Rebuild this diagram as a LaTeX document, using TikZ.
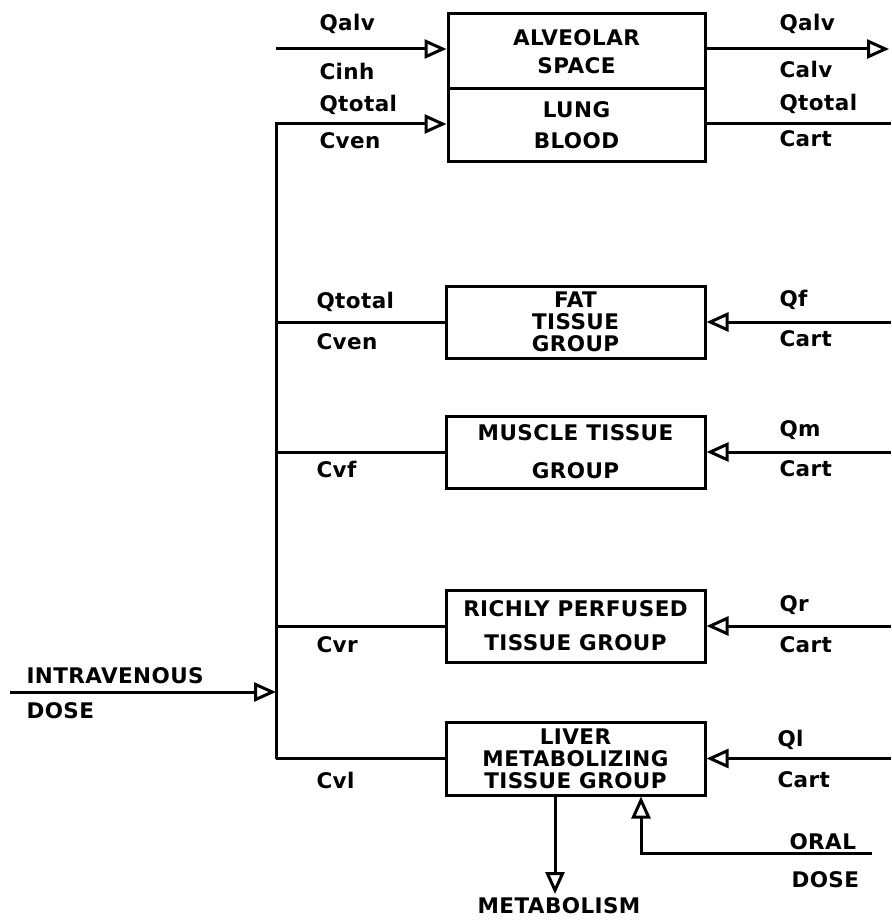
\documentclass[tikz,border=0pt]{standalone}
\usepackage{fontspec}
\setmainfont{DejaVu Sans}[LetterSpace=2]
\usetikzlibrary{arrows.meta}
\begin{document}
\begin{tikzpicture}[x=1pt,y=-1pt, line width=3pt,
  box/.style={draw, rectangle, inner sep=0pt, align=center, minimum width=259pt,
    font=\bfseries\fontsize{21.5}{22}\selectfont},
  lbl/.style={anchor=west, inner sep=0pt, font=\bfseries\fontsize{21.5}{22}\selectfont},
  tip/.style={-{Triangle[open,length=22pt,width=19pt,line width=3pt]}},
]
\useasboundingbox (0,0) rectangle (891,920);
% boxes
\node[box, minimum width=257pt, minimum height=75pt, font=\bfseries\fontsize{21.5}{28}\selectfont] (alv) at (576.5,51.5) {ALVEOLAR\\SPACE};
\node[box, minimum width=257pt, minimum height=73pt, font=\bfseries\fontsize{21.5}{31}\selectfont] (lung) at (576.5,125.5) {LUNG\\BLOOD};
\node[box, minimum height=72pt] (fat) at (575.5,322) {FAT\\TISSUE\\GROUP};
\node[box, minimum height=72pt, font=\bfseries\fontsize{21.5}{38}\selectfont] (mus) at (575.5,452) {MUSCLE TISSUE\\GROUP};
\node[box, minimum height=72pt, font=\bfseries\fontsize{21.5}{34}\selectfont] (rich) at (575.5,626) {RICHLY PERFUSED\\TISSUE GROUP};
\node[box, minimum height=73pt] (liv) at (575.5,758.5) {LIVER\\METABOLIZING\\TISSUE GROUP};
% coordinates
\coordinate (qin) at (276,49);
\coordinate (qout) at (889,49);
\coordinate (vtop) at (276,124);
\coordinate (vbot) at (276,758.5);
\coordinate (lout) at (891,124);
\coordinate (fin) at (891,322);
\coordinate (min) at (891,452);
\coordinate (rin) at (891,626);
\coordinate (lin) at (891,758.5);
\coordinate (iv) at (10,692);
\coordinate (met) at (555,894);
\coordinate (oral) at (872,853);
\coordinate (oralc) at (641,853);
% connectors
\draw[tip] (qin) -- (qin -| alv.west);
\draw[tip] (qout -| alv.east) -- (qout);
\draw[tip] (vbot) -- (vtop) -- (vtop -| lung.west);
\draw (lout -| lung.east) -- (lout);
\draw (vtop |- fat.west) -- (fat.west);
\draw (vtop |- mus.west) -- (mus.west);
\draw (vtop |- rich.west) -- (rich.west);
\draw (vbot) -- (liv.west);
\draw[tip] (fin) -- (fat.east);
\draw[tip] (min) -- (mus.east);
\draw[tip] (rin) -- (rich.east);
\draw[tip] (lin) -- (liv.east);
\draw[tip] (iv) -- (iv -| vtop);
\draw[tip] (met |- liv.south) -- (met);
\draw[tip] (oral) -- (oralc) -- (oralc |- liv.south);
% labels
\node[lbl] (l1) at (318,24) {Qalv};
\node[lbl] (l2) at (318,71) {Cinh};
\node[lbl] (l3) at (318,105) {Qtotal};
\node[lbl] (l4) at (318,141) {Cven};
\node[lbl] (r1) at (778,24) {Qalv};
\node[lbl] (r2) at (778,69) {Calv};
\node[lbl] (r3) at (778,104) {Qtotal};
\node[lbl] (r4) at (778,139) {Cart};
\node[lbl] (l5) at (315,302) {Qtotal};
\node[lbl] (l6) at (315,342) {Cven};
\node[lbl] (r5) at (778,300) {Qf};
\node[lbl] (r6) at (778,339) {Cart};
\node[lbl] (l7) at (315,469) {Cvf};
\node[lbl] (r7) at (778,430) {Qm};
\node[lbl] (r8) at (778,469) {Cart};
\node[lbl] (l8) at (315,645) {Cvr};
\node[lbl] (r9) at (778,605) {Qr};
\node[lbl] (r10) at (778,645) {Cart};
\node[lbl] (l9) at (315,780) {Cvl};
\node[lbl] (r11) at (776,740) {Ql};
\node[lbl] (r12) at (776,780) {Cart};
\node[lbl] (iv1) at (25,676) {INTRAVENOUS};
\node[lbl] (iv2) at (25,711) {DOSE};
\node[lbl] (or1) at (788,842) {ORAL};
\node[lbl] (or2) at (790,880) {DOSE};
\node[inner sep=0pt, font=\bfseries\fontsize{21.5}{22}\selectfont] (mt) at (559,906) {METABOLISM};
\end{tikzpicture}
\end{document}
